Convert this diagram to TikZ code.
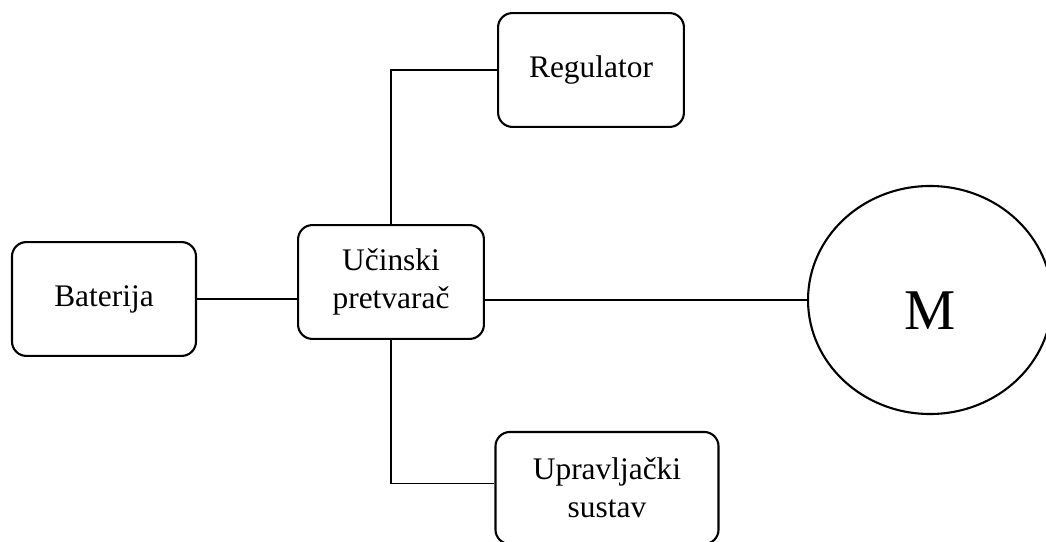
\documentclass[tikz,border=0pt]{standalone}
\usepackage{fontspec}
\setmainfont{Liberation Serif}
\usetikzlibrary{shapes.geometric}
\begin{document}
\begin{tikzpicture}[x=0.382pt,y=-0.382pt,
  block/.style={draw, rectangle, rounded corners=5.5pt, line width=0.8pt, align=center, minimum height=43.5pt, font=\fontsize{12}{14.5}\selectfont},
  wire/.style={draw, line width=0.4pt}]
\useasboundingbox (0,0) rectangle (1046,542);
\node[block, minimum width=70.3pt] (bat) at (104,299) {Baterija};
\node[block, minimum width=71pt] (conv) at (391,282) {Učinski\\pretvarač};
\node[block, minimum width=71pt] (reg) at (591,70) {Regulator};
\node[block, minimum width=85.2pt, minimum height=42.8pt] (ctrl) at (607,488) {Upravljački\\sustav};
\node[draw, ellipse, line width=0.8pt, minimum width=93.2pt, minimum height=87.1pt, text height=22.5pt, font=\fontsize{22}{26}\selectfont] (mot) at (930,300) {M};
\path[wire] (bat) -- (bat -| conv.west);
\path[wire] (conv.east |- mot) -- (mot);
\path[wire] (conv.north) |- (reg.west);
\path[wire] (conv.south) |- ([yshift=1.9pt]ctrl.west);
\end{tikzpicture}
\end{document}
